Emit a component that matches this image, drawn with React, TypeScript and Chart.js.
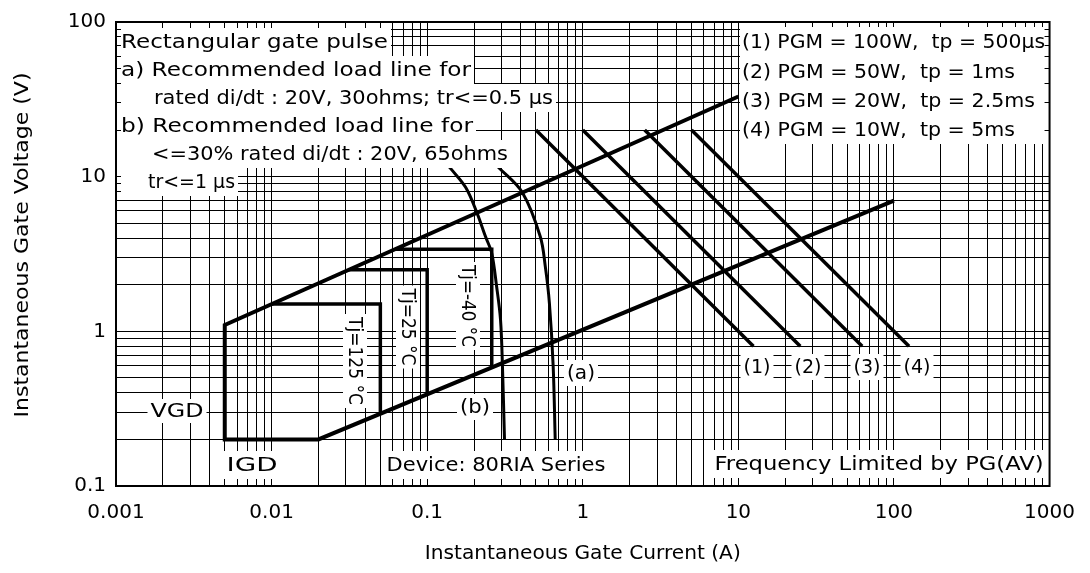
import React, { useEffect, useRef } from 'react';
import { Chart, registerables } from 'chart.js';

Chart.register(...registerables);

const FONT = "'DejaVu Sans', sans-serif";

// Axis decades and tick labels
const xDecades = [0.001, 0.01, 0.1, 1, 10, 100, 1000];
const xTickLabels = ['0.001', '0.01', '0.1', '1', '10', '100', '1000'];
const yDecades = [0.1, 1, 10, 100];
const yTickLabels = ['0.1', '1', '10', '100'];

// Gate characteristic boundary: load line (a) end -> corner -> VGD -> IGD -> load line (b) end
const boundaryI = [10, 0.005, 0.005, 0.02, 100];
const boundaryV = [33, 1.1, 0.2, 0.2, 7];

// Tj trigger boxes
const tj125I = [0.01, 0.05, 0.05];
const tj125V = [1.5, 1.5, 0.29];
const tj25I = [0.031, 0.1, 0.1];
const tj25V = [2.5, 2.5, 0.39];
const tjm40I = [0.063, 0.26, 0.26];
const tjm40V = [3.4, 3.4, 0.58];

// Curves (b) and (a)
const curveBI = [0.125, 0.1435, 0.177, 0.208, 0.237, 0.26, 0.279, 0.296, 0.305, 0.314];
const curveBV = [13, 11.1, 8.5, 5.9, 4.1, 3.2, 1.97, 1.19, 0.57, 0.2];
const curveAI = [0.25, 0.292, 0.409, 0.533, 0.575, 0.61, 0.645, 0.665];
const curveAV = [13, 11.3, 7.9, 4.1, 2.6, 1.53, 0.6, 0.2];

// Peak gate power lines (1)-(4)
const pgmStartI = [0.5, 1, 2.5, 5];
const pgmEndI = [12.5, 25, 62.5, 125];
const pgmStartV = [20, 20, 20, 20];
const pgmEndV = [0.8, 0.8, 0.8, 0.8];

const leftNotes = [
  'Rectangular gate pulse',
  'a) Recommended load line for',
  'rated di/dt : 20V, 30ohms; tr<=0.5 μs',
  'b) Recommended load line for',
  '<=30% rated di/dt : 20V, 65ohms',
  'tr<=1 μs',
];
const legendNotes = [
  '(1) PGM = 100W,  tp = 500μs',
  '(2) PGM = 50W,  tp = 1ms',
  '(3) PGM = 20W,  tp = 2.5ms',
  '(4) PGM = 10W,  tp = 5ms',
];

function allTicks(decades: number[]) {
  const out: number[] = [];
  for (let i = 0; i < decades.length - 1; i++) {
    for (let k = 1; k <= 9; k++) out.push(decades[i] * k);
  }
  out.push(decades[decades.length - 1]);
  return out;
}

function labelFor(value: number, decades: number[], labels: string[]) {
  const i = decades.findIndex((d) => Math.abs(d - value) / d < 1e-6);
  return i >= 0 ? labels[i] : '';
}

// draws text (left, middle) stretched to a given width
function drawFit(ctx: CanvasRenderingContext2D, t: string, x: number, y: number, w: number) {
  const m = ctx.measureText(t).width;
  ctx.save();
  ctx.translate(x, y);
  ctx.scale(w / m, 1);
  ctx.textAlign = 'left';
  ctx.textBaseline = 'middle';
  ctx.fillStyle = '#000';
  ctx.fillText(t, 0, 1);
  ctx.restore();
}

function boxCenter(ctx: CanvasRenderingContext2D, t: string, cx: number, cy: number, w: number, halfH = 13) {
  ctx.fillStyle = '#fff';
  ctx.fillRect(cx - w / 2 - 3, cy - halfH, w + 6, halfH * 2);
  drawFit(ctx, t, cx - w / 2, cy, w);
}

function rotLabel(ctx: CanvasRenderingContext2D, t: string, cx: number, cy: number, w: number) {
  ctx.save();
  ctx.translate(cx, cy);
  ctx.rotate(Math.PI / 2);
  ctx.fillStyle = '#fff';
  ctx.fillRect(-w / 2 - 3, -12, w + 6, 24);
  drawFit(ctx, t, -w / 2, 0, w);
  ctx.restore();
}

const annotations = {
  id: 'annotations',
  afterDatasetsDraw(chart: any) {
    const ctx: CanvasRenderingContext2D = chart.ctx;
    const a = chart.chartArea;
    ctx.save();
    ctx.font = `20px ${FONT}`;

    // left note block
    const starts = [121, 121, 154, 121, 152, 148];
    const widths = [267, 350, 399, 352, 356, 87];
    const x0 = a.left + 5;
    leftNotes.forEach((t, i) => {
      const cy = a.top + 20 + i * 28;
      ctx.fillStyle = '#fff';
      ctx.fillRect(x0, cy - 14, starts[i] + widths[i] + 3 - x0, 28);
      drawFit(ctx, t, starts[i], cy, widths[i]);
    });

    // legend block
    const lx0 = 740;
    const lw = [303, 273, 293, 273];
    ctx.fillStyle = '#fff';
    ctx.fillRect(lx0, a.top + 5, a.right - 5 - lx0, 117);
    legendNotes.forEach((t, i) => {
      drawFit(ctx, t, lx0 + 2, a.top + 20 + i * 29.3, lw[i]);
    });

    // line markers
    boxCenter(ctx, '(1)', 757, 367, 27);
    boxCenter(ctx, '(2)', 808, 367, 27);
    boxCenter(ctx, '(3)', 867, 367, 27);
    boxCenter(ctx, '(4)', 917, 367, 27);
    boxCenter(ctx, '(a)', 581, 373, 28);
    boxCenter(ctx, '(b)', 475, 407, 30);
    boxCenter(ctx, 'VGD', 177, 411, 53, 12);
    boxCenter(ctx, 'IGD', 252, 465, 51, 14);
    boxCenter(ctx, 'Device: 80RIA Series', 496, 465, 219, 14);
    boxCenter(ctx, 'Frequency Limited by PG(AV)', 879, 464, 329, 14);

    ctx.font = `19px ${FONT}`;
    rotLabel(ctx, 'Tj=125 °C', 355, 361, 88);
    rotLabel(ctx, 'Tj=25 °C', 408, 327, 77);
    rotLabel(ctx, 'Tj=-40 °C', 468, 306, 82);

    // frame
    ctx.strokeStyle = '#000';
    ctx.lineWidth = 2;
    ctx.strokeRect(a.left, a.top, a.right - a.left, a.bottom - a.top);

    // axis titles
    ctx.font = `20px ${FONT}`;
    const xw = 316;
    drawFit(ctx, 'Instantaneous Gate Current (A)', (a.left + a.right) / 2 - xw / 2, 553, xw);
    const yw = 345;
    ctx.save();
    ctx.translate(22, 245);
    ctx.rotate(-Math.PI / 2);
    drawFit(ctx, 'Instantaneous Gate Voltage (V)', -yw / 2, 0, yw);
    ctx.restore();

    ctx.restore();
  },
};

export default function App() {
  const ref = useRef<HTMLCanvasElement>(null);
  useEffect(() => {
    document.body.style.margin = '0';
    const canvas = ref.current!;
    const pts = (xs: number[], ys: number[]) => xs.map((x, i) => ({ x, y: ys[i] }));
    const ds = (data: any[], width: number, extra: any = {}) => ({
      data,
      borderColor: '#000',
      backgroundColor: '#000',
      borderWidth: width,
      pointRadius: 0,
      showLine: true,
      fill: false,
      tension: 0,
      borderJoinStyle: 'miter',
      ...extra,
    });
    const datasets: any[] = [
      ds(pts(boundaryI, boundaryV), 4),
      ds(pts(tj125I, tj125V), 3.5),
      ds(pts(tj25I, tj25V), 3.5),
      ds(pts(tjm40I, tjm40V), 3.5),
      ds(pts(curveBI, curveBV), 3, { tension: 0.35 }),
      ds(pts(curveAI, curveAV), 3, { tension: 0.35 }),
    ];
    pgmStartI.forEach((s, i) => {
      datasets.push(ds([{ x: s, y: pgmStartV[i] }, { x: pgmEndI[i], y: pgmEndV[i] }], 3.5));
    });

    const xAll = allTicks(xDecades);
    const yAll = allTicks(yDecades);

    const chart = new Chart(canvas, {
      type: 'scatter',
      data: { datasets },
      options: {
        animation: false,
        responsive: false,
        events: [],
        layout: { padding: { left: 0, right: 37, top: 16, bottom: 0 } },
        plugins: { legend: { display: false }, tooltip: { enabled: false } },
        scales: {
          x: {
            type: 'logarithmic',
            min: 0.001,
            max: 1000,
            afterBuildTicks: (scale: any) => {
              scale.ticks = xAll.map((v) => ({ value: v }));
            },
            afterFit: (scale: any) => {
              scale.height = 87;
            },
            grid: { color: '#000', lineWidth: 1, drawTicks: false, tickLength: 0 },
            border: { display: true, color: '#000', width: 2 },
            ticks: {
              autoSkip: false,
              maxRotation: 0,
              minRotation: 0,
              padding: 15,
              color: '#000',
              font: { family: FONT, size: 20 },
              callback: (v: any) => labelFor(Number(v), xDecades, xTickLabels),
            },
          },
          y: {
            type: 'logarithmic',
            min: 0.1,
            max: 100,
            afterBuildTicks: (scale: any) => {
              scale.ticks = yAll.map((v) => ({ value: v }));
            },
            afterFit: (scale: any) => {
              scale.width = 116;
            },
            grid: { color: '#000', lineWidth: 1, drawTicks: false, tickLength: 0 },
            border: { display: true, color: '#000', width: 2 },
            ticks: {
              autoSkip: false,
              padding: 10,
              color: '#000',
              font: { family: FONT, size: 20 },
              callback: (v: any) => labelFor(Number(v), yDecades, yTickLabels),
            },
          },
        },
      } as any,
      plugins: [annotations],
    });
    return () => chart.destroy();
  }, []);
  return (
    <div style={{ width: 1090, height: 573, background: '#fff' }}>
      <canvas ref={ref} width={1090} height={573} style={{ display: 'block' }} />
    </div>
  );
}
